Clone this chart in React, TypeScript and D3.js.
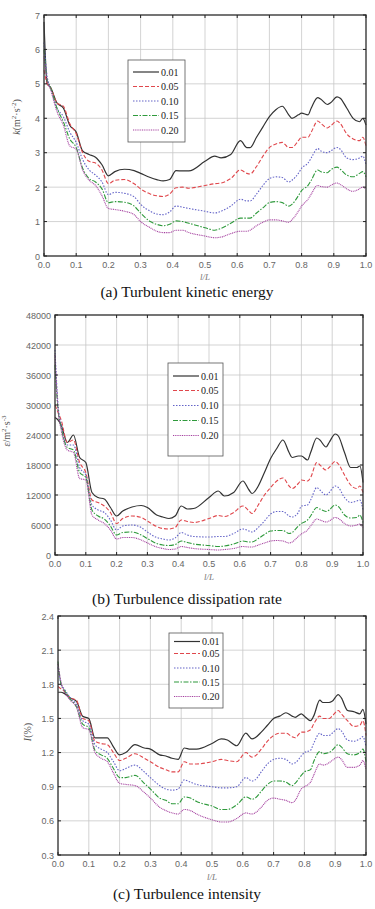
import { useEffect, useRef } from "react";
import * as d3 from "d3";

// shared x positions (l/L)
const xPos = [0, 0.01, 0.02, 0.04, 0.06, 0.08, 0.1, 0.12, 0.14, 0.16, 0.18, 0.2, 0.22, 0.25, 0.28, 0.3, 0.33, 0.35, 0.37, 0.39, 0.41, 0.43, 0.45, 0.5, 0.53, 0.55, 0.58, 0.61, 0.63, 0.64, 0.66, 0.68, 0.7, 0.72, 0.74, 0.76, 0.77, 0.79, 0.8, 0.82, 0.83, 0.85, 0.86, 0.88, 0.89, 0.91, 0.92, 0.94, 0.96, 0.98, 0.99, 1.0];

const seriesNames = ["0.01", "0.05", "0.10", "0.15", "0.20"];
const xTicks = [0, 0.1, 0.2, 0.3, 0.4, 0.5, 0.6, 0.7, 0.8, 0.9, 1.0];

// (a) turbulent kinetic energy
const k001 = [6.8, 5.0, 4.9, 4.45, 4.3, 3.8, 3.6, 3.05, 2.95, 2.87, 2.65, 2.33, 2.45, 2.52, 2.48, 2.4, 2.28, 2.22, 2.18, 2.22, 2.48, 2.47, 2.47, 2.75, 2.9, 2.85, 2.95, 3.35, 3.15, 3.15, 3.45, 3.75, 4.05, 4.25, 4.35, 4.1, 4.0, 4.1, 4.15, 4.1, 4.3, 4.6, 4.55, 4.4, 4.45, 4.62, 4.58, 4.3, 4.0, 3.9, 4.0, 3.8];
const k005 = [5.4, 5.0, 4.9, 4.45, 4.35, 3.85, 3.55, 3.0, 2.75, 2.7, 2.5, 2.1, 2.2, 2.22, 2.1, 1.95, 1.8, 1.75, 1.73, 1.8, 1.98, 2.0, 1.97, 2.05, 2.1, 2.12, 2.25, 2.5, 2.4, 2.38, 2.6, 2.9, 3.15, 3.25, 3.3, 3.15, 3.15, 3.35, 3.45, 3.45, 3.6, 3.92, 3.85, 3.72, 3.78, 3.92, 3.85, 3.55, 3.4, 3.35, 3.45, 3.2];
const k010 = [6.2, 5.2, 4.9, 4.3, 4.05, 3.6, 3.3, 2.8, 2.5, 2.35, 2.15, 1.78, 1.85, 1.82, 1.72, 1.5, 1.3, 1.22, 1.2, 1.28, 1.45, 1.42, 1.38, 1.3, 1.25, 1.3, 1.45, 1.65, 1.6, 1.6, 1.8, 2.05, 2.25, 2.3, 2.28, 2.15, 2.2, 2.4, 2.55, 2.7, 2.85, 3.12, 3.05, 3.0, 3.05, 3.15, 3.1, 2.85, 2.8, 2.85, 2.9, 2.65];
const k015 = [6.0, 5.1, 4.9, 4.3, 3.9, 3.4, 3.15, 2.55, 2.25, 2.15, 1.95, 1.55, 1.58, 1.56, 1.45, 1.25, 1.0, 0.92, 0.88, 0.92, 1.02, 1.0, 0.95, 0.82, 0.75, 0.8, 0.95, 1.1, 1.1, 1.1, 1.25, 1.4, 1.55, 1.58, 1.55, 1.45, 1.5, 1.75, 1.9, 2.05, 2.2, 2.5, 2.45, 2.42, 2.5, 2.58, 2.52, 2.35, 2.3, 2.4, 2.45, 2.3];
const k020 = [5.8, 5.1, 4.85, 4.2, 3.8, 3.2, 3.1, 2.5, 2.2, 2.05, 1.75, 1.38, 1.35, 1.3, 1.2, 1.0, 0.82, 0.72, 0.68, 0.68, 0.75, 0.75, 0.68, 0.58, 0.53, 0.55, 0.65, 0.72, 0.72, 0.75, 0.88, 0.98, 1.05, 1.05, 1.02, 0.98, 1.05, 1.3, 1.45, 1.65, 1.8, 2.05, 2.02, 2.0, 2.05, 2.12, 2.08, 1.95, 1.88, 1.95, 2.0, 1.95];

// (b) dissipation rate, in thousands
const e001 = [27.5, 27, 26, 22.5, 24, 19.5, 18.5, 12.5, 11.5, 11.2, 9.5, 7.8, 8.8, 9.6, 9.9, 9.5, 8, 7.6, 7.3, 7.8, 9.8, 9.2, 9.3, 11.5, 12.8, 11.8, 12.5, 14.8, 13, 12.3, 13.8, 16.5, 19.3, 21.3, 23, 20.5, 19.5, 19.8, 19.8, 19, 20.5, 23.4, 23, 21.6, 22.5, 24.2, 23.8, 20.5, 17.5, 17.5, 17.8, 14.5];
const e005 = [30, 28.5, 27, 22.5, 23, 18.5, 16.5, 11, 10.5, 9.8, 8.5, 6.3, 7.3, 7.8, 7.5, 6.8, 5.7, 5.3, 5.2, 5.5, 7, 6.7, 6.5, 7.3, 7.9, 7.7, 8.5, 9.8, 8.8, 8.3, 10, 12, 13.5, 14.8, 15.4, 13.8, 13.3, 14.3, 15, 14.8, 15.5, 18.5, 18, 17, 17.5, 18.7, 18.2, 16, 14, 13.3, 13.8, 12.5];
const e010 = [41, 30, 26, 22, 22, 17.5, 16, 10, 9, 8.5, 7, 5, 5.8, 6, 5.5, 4.6, 3.5, 3.2, 3, 3.4, 4.5, 4, 3.7, 3.6, 3.7, 3.7, 4.3, 5.2, 4.8, 4.6, 5.5, 6.8, 8.2, 8.7, 8.7, 7.8, 7.6, 8.5, 9.8, 10, 11, 13.5, 13, 12, 12.5, 13.8, 13.5, 11.5, 10.5, 10.8, 11, 9];
const e015 = [38, 29, 25.5, 21.5, 21, 16.5, 15.5, 9, 7.8, 7.2, 5.8, 4, 4.5, 4.6, 4, 3.3, 2.3, 2, 1.9, 2.1, 2.8, 2.5, 2.2, 1.9, 1.7, 1.8, 2.2, 2.8, 2.6, 2.6, 3.3, 4.1, 4.8, 4.9, 4.9, 4.3, 4.5, 5.8, 6.3, 7, 7.8, 9.5, 9.2, 8.7, 9, 10, 9.7, 8, 7.4, 7.5, 8, 6.5];
const e020 = [40, 29, 25, 21, 20.5, 15.3, 15, 8, 7, 6.3, 5, 3.2, 3.5, 3.5, 3, 2.4, 1.6, 1.3, 1.1, 1.2, 1.7, 1.5, 1.3, 1.1, 1, 1.1, 1.3, 1.7, 1.6, 1.6, 2, 2.4, 2.8, 2.9, 2.8, 2.4, 2.6, 3.7, 4.2, 5, 5.8, 7.2, 7, 6.6, 6.8, 7.5, 7.3, 6.3, 5.8, 6, 6.2, 5.5];

// (c) turbulence intensity, %
const i001 = [1.73, 1.73, 1.72, 1.68, 1.65, 1.52, 1.5, 1.33, 1.33, 1.33, 1.25, 1.18, 1.2, 1.27, 1.24, 1.23, 1.18, 1.17, 1.15, 1.14, 1.24, 1.23, 1.23, 1.28, 1.32, 1.31, 1.26, 1.37, 1.32, 1.33, 1.38, 1.44, 1.5, 1.52, 1.55, 1.52, 1.51, 1.54, 1.52, 1.48, 1.52, 1.66, 1.64, 1.64, 1.65, 1.71, 1.68, 1.57, 1.56, 1.54, 1.58, 1.45];
const i005 = [1.78, 1.76, 1.74, 1.68, 1.66, 1.5, 1.48, 1.3, 1.28, 1.27, 1.2, 1.13, 1.15, 1.19, 1.15, 1.12, 1.07, 1.05, 1.03, 1.03, 1.12, 1.1, 1.1, 1.12, 1.14, 1.13, 1.12, 1.2, 1.16, 1.17, 1.23, 1.3, 1.35, 1.37, 1.37, 1.34, 1.33, 1.38, 1.38, 1.4, 1.45, 1.52, 1.5, 1.5, 1.52, 1.57, 1.54, 1.48, 1.43, 1.44, 1.48, 1.35];
const i010 = [1.95, 1.8, 1.76, 1.68, 1.62, 1.48, 1.45, 1.27, 1.23, 1.2, 1.12, 1.04, 1.06, 1.09, 1.03, 0.98, 0.91, 0.88, 0.87, 0.88, 0.96, 0.94, 0.92, 0.9, 0.89, 0.89, 0.9, 0.98, 0.95, 0.96, 1.03, 1.1, 1.14, 1.15, 1.14, 1.1, 1.11, 1.17, 1.2, 1.22, 1.28, 1.37, 1.35, 1.35, 1.37, 1.41, 1.39, 1.31, 1.3, 1.32, 1.34, 1.25];
const i015 = [2.0, 1.8, 1.75, 1.67, 1.6, 1.45, 1.42, 1.22, 1.18, 1.15, 1.06, 0.98, 0.98, 1.0, 0.93, 0.88, 0.8, 0.78, 0.75, 0.75, 0.81, 0.8, 0.77, 0.73, 0.7, 0.7, 0.74, 0.81, 0.79, 0.8, 0.86, 0.92, 0.95, 0.95, 0.94, 0.91, 0.93, 1.0, 1.03, 1.05, 1.12, 1.21, 1.19, 1.2, 1.22, 1.27, 1.25, 1.19, 1.18, 1.2, 1.23, 1.12];
const i020 = [1.98, 1.82, 1.74, 1.66, 1.6, 1.42, 1.4, 1.2, 1.15, 1.12, 1.02, 0.93, 0.92, 0.91, 0.85, 0.8, 0.72, 0.69, 0.67, 0.66, 0.7, 0.69, 0.66, 0.61, 0.59, 0.59, 0.62, 0.67, 0.66, 0.67, 0.72, 0.78, 0.8, 0.79, 0.78, 0.76, 0.78, 0.88, 0.9, 0.94, 1.0, 1.1, 1.09, 1.11, 1.13, 1.16, 1.14, 1.07, 1.07, 1.09, 1.13, 1.05];

const kTicks = [0, 1, 2, 3, 4, 5, 6, 7];
const eTicks = [0, 6000, 12000, 18000, 24000, 30000, 36000, 42000, 48000];
const iTicks = [0.3, 0.6, 0.9, 1.2, 1.5, 1.8, 2.1, 2.4];

const styles = [
  { color: "#333333", dash: "", width: 1.2 },
  { color: "#e0474c", dash: "4,2", width: 1.1 },
  { color: "#6464c8", dash: "1.5,1.5", width: 1.1 },
  { color: "#2f9a3c", dash: "5,1.5,1.5,1.5", width: 1.1 },
  { color: "#a4409f", dash: "1,0.8", width: 1.1 },
];

const SERIF = "'Liberation Serif', 'Times New Roman', Times, serif";
const SANS = "'Liberation Sans', Arial, sans-serif";

const App = () => {
  const svgRef = useRef<SVGSVGElement | null>(null);

  useEffect(() => {
    const svg = d3.select(svgRef.current);
    svg.selectAll("*").remove();

    const panels = [
      {
        box: { left: 44, right: 366, top: 15, bottom: 256 },
        series: [k001, k005, k010, k015, k020],
        scale: 1,
        domain: [0, 7],
        ticks: kTicks,
        fmt: (d: number) => String(d),
        ylab: { x: 20, y: 117, parts: [["k", true, false], ["(m", false, false], ["2", false, true], ["·s", false, false], ["-2", false, true], [")", false, false]] },
        legend: { x: 128, y: 60, w: 57, h: 82, rows: [72, 86.5, 101, 115.5, 130] },
        xlabY: 280,
        caption: "(a) Turbulent kinetic energy",
        capY: 297,
      },
      {
        box: { left: 55, right: 363, top: 315, bottom: 555 },
        series: [e001, e005, e010, e015, e020],
        scale: 1000,
        domain: [0, 48000],
        ticks: eTicks,
        fmt: (d: number) => String(d),
        ylab: { x: 10, y: 431, parts: [["ε", true, false], ["/m", false, false], ["2", false, true], ["·s", false, false], ["-3", false, true]] },
        legend: { x: 168, y: 363, w: 55, h: 93, rows: [376, 390.5, 405.5, 420.5, 435.5] },
        xlabY: 580,
        caption: "(b) Turbulence dissipation rate",
        capY: 604,
      },
      {
        box: { left: 58, right: 366, top: 616, bottom: 855 },
        series: [i001, i005, i010, i015, i020],
        scale: 1,
        domain: [0.3, 2.4],
        ticks: iTicks,
        fmt: d3.format(".1f"),
        ylab: { x: 31, y: 732, parts: [["I", true, false], ["(%)", false, false]] },
        legend: { x: 169, y: 633, w: 54, h: 75, rows: [641.5, 653.5, 668, 682, 696.5] },
        xlabY: 880,
        caption: "(c) Turbulence intensity",
        capY: 899,
      },
    ];

    panels.forEach((p) => {
      const { left, right, top, bottom } = p.box;
      const x = d3.scaleLinear().domain([0, 1]).range([left, right]);
      const y = d3.scaleLinear().domain(p.domain).range([bottom, top]);
      const g = svg.append("g");

      // grid
      g.selectAll(".gx")
        .data(xTicks.slice(1, -1))
        .join("line")
        .attr("x1", (d) => x(d))
        .attr("x2", (d) => x(d))
        .attr("y1", top)
        .attr("y2", bottom)
        .attr("stroke", "#c8c8c8")
        .attr("stroke-width", 0.8);
      g.selectAll(".gy")
        .data(p.ticks.slice(1, -1))
        .join("line")
        .attr("x1", left)
        .attr("x2", right)
        .attr("y1", (d) => y(d))
        .attr("y2", (d) => y(d))
        .attr("stroke", "#c8c8c8")
        .attr("stroke-width", 0.8);

      // series
      p.series.forEach((vals, i) => {
        const pts = vals.map((v, j) => [xPos[j], v * p.scale] as [number, number]);
        const line = d3
          .line<[number, number]>()
          .x((d) => x(d[0]))
          .y((d) => y(d[1]))
          .curve(d3.curveMonotoneX);
        g.append("path")
          .datum(pts)
          .attr("fill", "none")
          .attr("stroke", styles[i].color)
          .attr("stroke-width", styles[i].width)
          .attr("stroke-dasharray", styles[i].dash || null)
          .attr("d", line);
      });

      // frame + inward ticks
      g.append("rect")
        .attr("x", left)
        .attr("y", top)
        .attr("width", right - left)
        .attr("height", bottom - top)
        .attr("fill", "none")
        .attr("stroke", "#3a3a3a")
        .attr("stroke-width", 1.4);
      const tk = 3;
      xTicks.forEach((t) => {
        g.append("line").attr("x1", x(t)).attr("x2", x(t)).attr("y1", bottom).attr("y2", bottom - tk).attr("stroke", "#222");
        g.append("line").attr("x1", x(t)).attr("x2", x(t)).attr("y1", top).attr("y2", top + tk).attr("stroke", "#222");
      });
      p.ticks.forEach((t) => {
        g.append("line").attr("x1", left).attr("x2", left + tk).attr("y1", y(t)).attr("y2", y(t)).attr("stroke", "#222");
        g.append("line").attr("x1", right).attr("x2", right - tk).attr("y1", y(t)).attr("y2", y(t)).attr("stroke", "#222");
      });

      // tick labels
      g.selectAll(".xl")
        .data(xTicks)
        .join("text")
        .attr("x", (d) => x(d))
        .attr("y", bottom + 12)
        .attr("text-anchor", "middle")
        .style("font-family", SANS)
        .style("font-size", "9px")
        .attr("fill", "#666")
        .text((d) => d3.format(".1f")(d));
      g.selectAll(".yl")
        .data(p.ticks)
        .join("text")
        .attr("x", left - 4)
        .attr("y", (d) => y(d) + 3.5)
        .attr("text-anchor", "end")
        .style("font-family", SANS)
        .style("font-size", "9px")
        .attr("fill", "#666")
        .text((d) => p.fmt(d));

      // axis titles
      g.append("text")
        .attr("x", (left + right) / 2)
        .attr("y", p.xlabY)
        .attr("text-anchor", "middle")
        .style("font-family", SERIF)
        .style("font-style", "italic")
        .style("font-size", "9px")
        .attr("fill", "#777")
        .text("l/L");

      const yl = g.append("text")
        .attr("transform", `translate(${p.ylab.x},${p.ylab.y}) rotate(-90)`)
        .attr("text-anchor", "middle")
        .style("font-family", SERIF)
        .style("font-size", "10px")
        .attr("fill", "#555");
      let prevSup = false;
      p.ylab.parts.forEach(([t, it, sup]) => {
        const s = yl.append("tspan").text(t as string);
        if (it) s.style("font-style", "italic");
        if (sup) s.style("font-size", "7px");
        const dy = sup && !prevSup ? -4 : !sup && prevSup ? 4 : 0;
        s.attr("dy", dy);
        prevSup = sup as boolean;
      });

      // legend
      const L = p.legend;
      g.append("rect")
        .attr("x", L.x)
        .attr("y", L.y)
        .attr("width", L.w)
        .attr("height", L.h)
        .attr("fill", "#fff")
        .attr("stroke", "#555")
        .attr("stroke-width", 0.8);
      seriesNames.forEach((name, i) => {
        g.append("line")
          .attr("x1", L.x + 5)
          .attr("x2", L.x + 31)
          .attr("y1", L.rows[i])
          .attr("y2", L.rows[i])
          .attr("stroke", styles[i].color)
          .attr("stroke-width", styles[i].width)
          .attr("stroke-dasharray", styles[i].dash || null);
        g.append("text")
          .attr("x", L.x + 33)
          .attr("y", L.rows[i] + 3.5)
          .style("font-family", SERIF)
          .style("font-size", "10px")
          .attr("fill", "#222")
          .text(name);
      });

      // caption
      g.append("text")
        .attr("x", 187)
        .attr("y", p.capY)
        .attr("text-anchor", "middle")
        .style("font-family", SERIF)
        .style("font-size", "15.5px")
        .attr("fill", "#111")
        .text(p.caption);
    });
  }, []);

  return (
    <svg
      ref={svgRef}
      width={375}
      height={909}
      style={{ position: "absolute", left: 0, top: 0, background: "#fff" }}
    ></svg>
  );
};

export default App;
